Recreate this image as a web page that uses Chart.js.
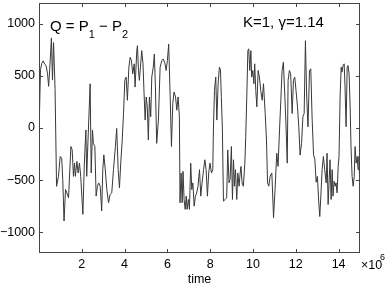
<!DOCTYPE html>
<html><head><meta charset="utf-8">
<script src="https://cdn.jsdelivr.net/npm/chart.js@4/dist/chart.umd.min.js"></script>
<style>html,body{margin:0;padding:0;background:#fff;}canvas{display:block;}</style>
</head><body>
<canvas id="c" width="391" height="291"></canvas>
<script>
const time = [0.00,0.07,0.13,0.20,0.27,0.33,0.40,0.45,0.50,0.58,0.63,0.68,0.75,0.82,0.91,0.99,1.06,1.11,1.17,1.24,1.30,1.38,1.49,1.55,1.61,1.66,1.70,1.77,1.83,1.89,1.95,2.05,2.12,2.19,2.23,2.29,2.39,2.44,2.50,2.54,2.61,2.67,2.73,2.79,2.86,2.93,2.98,3.03,3.09,3.17,3.25,3.32,3.40,3.48,3.57,3.63,3.70,3.76,3.82,3.88,3.95,4.01,4.07,4.13,4.20,4.26,4.32,4.38,4.45,4.49,4.57,4.60,4.65,4.69,4.74,4.80,4.86,4.91,4.96,5.01,5.06,5.11,5.16,5.22,5.27,5.34,5.39,5.44,5.50,5.58,5.66,5.74,5.81,5.89,5.94,6.00,6.06,6.13,6.19,6.25,6.31,6.38,6.44,6.50,6.56,6.59,6.64,6.69,6.73,6.78,6.83,6.88,6.92,6.98,7.03,7.09,7.14,7.19,7.25,7.31,7.37,7.43,7.50,7.56,7.62,7.69,7.75,7.81,7.87,7.93,7.99,8.06,8.12,8.15,8.20,8.26,8.31,8.37,8.43,8.48,8.52,8.57,8.62,8.70,8.77,8.82,8.88,8.93,8.99,9.04,9.09,9.13,9.18,9.24,9.29,9.35,9.40,9.44,9.49,9.55,9.62,9.66,9.71,9.76,9.80,9.85,9.90,9.94,9.99,10.04,10.08,10.13,10.18,10.24,10.30,10.36,10.43,10.49,10.57,10.63,10.68,10.74,10.80,10.88,10.96,11.03,11.11,11.17,11.24,11.30,11.36,11.42,11.49,11.55,11.60,11.64,11.70,11.76,11.83,11.89,11.95,12.01,12.08,12.14,12.20,12.27,12.33,12.39,12.45,12.51,12.57,12.64,12.70,12.76,12.83,12.89,12.95,13.01,13.07,13.12,13.17,13.23,13.29,13.35,13.42,13.46,13.51,13.56,13.60,13.65,13.70,13.74,13.79,13.84,13.88,13.93,13.98,14.02,14.07,14.12,14.16,14.21,14.26,14.30,14.35,14.40,14.44,14.49,14.54,14.58,14.63,14.68,14.73,14.77,14.82,14.87,14.91,14.95,15.00];
const Q = [-60,560,620,645,610,600,520,400,560,865,460,820,380,-560,-464,-273,-290,-496,-893,-590,-623,-670,-178,-210,-464,-337,-464,-321,-432,-337,-464,-829,-337,-19,-464,-115,425,-432,-19,-147,-178,-654,-559,-527,-559,-797,-400,-258,-385,-591,-718,-639,-623,-400,-178,-4,-400,-575,-337,-147,139,457,489,266,584,679,647,520,616,393,743,790,550,457,584,743,616,330,76,298,203,-115,298,107,489,584,711,393,-147,76,584,647,663,616,552,647,806,298,-178,234,346,298,171,298,107,-718,-432,-718,-416,-686,-781,-654,-781,-686,-781,-337,-591,-527,-750,-654,-623,-559,-400,-654,-527,-400,-305,-400,-654,-432,-337,-432,-400,-19,361,489,76,425,584,560,300,-20,-702,-686,-670,-210,-527,-495,-178,-686,-305,-559,-400,-686,-432,-559,-432,-369,-527,-559,-337,-83,298,743,760,552,743,489,552,425,616,361,203,552,489,361,266,425,139,-115,-527,-559,-464,-432,-861,-591,-242,-369,-19,266,552,631,298,-19,-337,457,552,520,139,457,489,361,203,12,-260,-147,107,139,838,298,12,552,568,107,-258,-300,-520,-464,-700,-850,-654,-400,-273,-400,-527,-242,-734,-495,-305,-686,-400,-654,-511,-559,-527,-623,-369,-273,298,584,536,600,616,393,12,584,600,520,203,-178,-464,-559,-464,-178,-337,-273,-400,-273,-600];
const xTicks = [2,4,6,8,10,12,14];
const yTicks = [-1000,-500,0,500,1000];
const xLabel = 'time';

const FONT = '"Liberation Sans", Arial, Helvetica, sans-serif';

const decor = {
  id: 'decor',
  afterDraw(chart) {
    const ctx = chart.ctx, a = chart.chartArea;
    const xs = chart.scales.x, ys = chart.scales.y;
    ctx.save();
    ctx.strokeStyle = '#444';
    ctx.lineWidth = 1;
    ctx.strokeRect(Math.round(a.left) + 0.5, Math.round(a.top) + 0.5, Math.round(a.right - a.left) - 1, Math.round(a.bottom - a.top) - 1);
    const tl = 4;
    ctx.beginPath();
    xTicks.forEach(v => {
      const p = Math.round(xs.getPixelForValue(v)) + 0.5;
      ctx.moveTo(p, a.bottom); ctx.lineTo(p, a.bottom - tl);
      ctx.moveTo(p, a.top); ctx.lineTo(p, a.top + tl);
    });
    yTicks.forEach(v => {
      const p = Math.round(ys.getPixelForValue(v)) + 0.5;
      ctx.moveTo(a.left, p); ctx.lineTo(a.left + tl, p);
      ctx.moveTo(a.right, p); ctx.lineTo(a.right - tl, p);
    });
    ctx.stroke();

    ctx.fillStyle = '#000';
    ctx.textBaseline = 'alphabetic';
    ctx.font = '12.5px ' + FONT;
    ctx.textAlign = 'center';
    ctx.fillText(xLabel, (a.left + a.right) / 2, 283);
    ctx.textAlign = 'left';
    ctx.fillText('\u00d710', a.right + 1, 268.5);
    ctx.font = '9px ' + FONT;
    ctx.fillText('6', a.right + 20, 260);

    let x = 50;
    const big = '15px ' + FONT, small = '11px ' + FONT;
    const parts = [['Q = P', big, 31], ['1', small, 38], [' \u2212 P', big, 31], ['2', small, 38]];
    parts.forEach(([t, f, y]) => { ctx.font = f; ctx.fillText(t, x, y); x += ctx.measureText(t).width; });
    ctx.font = big;
    ctx.fillText('K=1, \u03b3=1.14', 243, 27);
    ctx.restore();
  }
};

new Chart(document.getElementById('c'), {
  type: 'line',
  data: {
    datasets: [{
      data: time.map((t, i) => ({ x: t, y: Q[i] })),
      borderColor: '#383838',
      borderWidth: 1,
      pointRadius: 0,
      tension: 0,
      fill: false
    }]
  },
  options: {
    responsive: false,
    animation: false,
    devicePixelRatio: 1,
    layout: { padding: { left: 0, right: 31, top: 3, bottom: 0 } },
    plugins: { legend: { display: false }, tooltip: { enabled: false } },
    scales: {
      x: {
        type: 'linear', min: 0, max: 15,
        afterBuildTicks: s => { s.ticks = xTicks.map(v => ({ value: v })); },
        afterFit: s => { s.height = 38; s.paddingLeft = 0; s.paddingRight = 0; },
        grid: { display: false, drawTicks: false },
        border: { display: false },
        ticks: { color: '#000', padding: 4, maxRotation: 0, font: { family: FONT, size: 12.5 } }
      },
      y: {
        type: 'linear', min: -1200, max: 1200,
        afterBuildTicks: s => { s.ticks = yTicks.map(v => ({ value: v })); },
        afterFit: s => { s.width = 39; s.paddingTop = 0; s.paddingBottom = 0; },
        grid: { display: false, drawTicks: false },
        border: { display: false },
        ticks: { color: '#000', padding: 4, font: { family: FONT, size: 12.5 },
          callback: v => String(v).replace('-', '\u2212') }
      }
    }
  },
  plugins: [decor]
});
</script>
</body></html>
